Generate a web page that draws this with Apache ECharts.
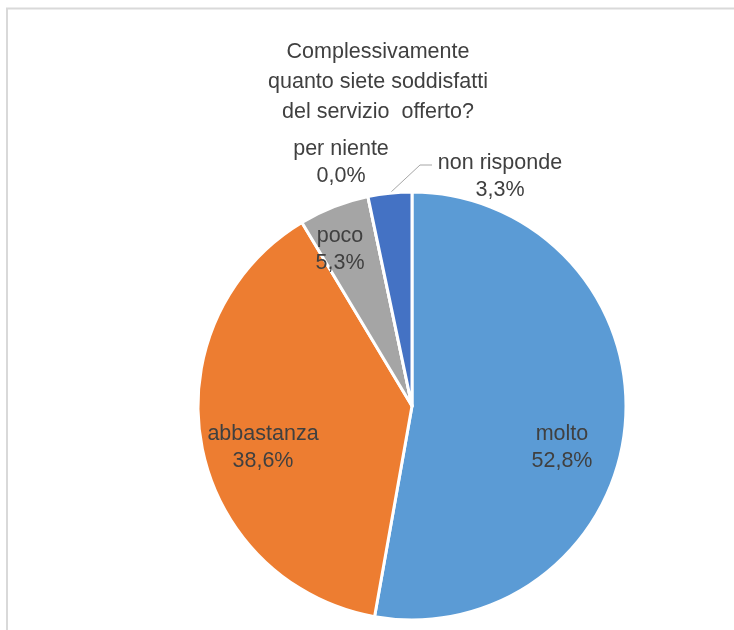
<!DOCTYPE html>
<html><head><meta charset="utf-8">
<script src="https://cdn.jsdelivr.net/npm/echarts@6/dist/echarts.min.js"></script>
<style>html,body{margin:0;padding:0;background:#fff}#c{width:734px;height:630px}</style>
</head><body><div id="c"></div>
<script>
// ---- data ----
const categories = ['molto', 'abbastanza', 'poco', 'per niente', 'non risponde'];
const values = [52.8, 38.6, 5.3, 0.0, 3.3];
const titleLines = ['Complessivamente', 'quanto siete soddisfatti', 'del servizio  offerto?'];

// ---- style ----
const colors = ['#5B9BD5', '#ED7D31', '#A5A5A5', '#FFC000', '#4472C4'];
const CX = 412, CY = 406, R = 214;
const labelOffsets = [[150, 42], [-149, 42], [-72, -156], [-71, -243], [88, -229]];
const leaderBend = [[8, -241], [20, -241]];
const FONT = 'Liberation Sans, Arial, sans-serif';
const TXT = '#404040';

const chart = echarts.init(document.getElementById('c'), null, { renderer: 'canvas' });
const data = categories.map((name, i) => {
  const item = { name, value: values[i], itemStyle: { color: colors[i] } };
  if (name === 'non risponde') {
    item.label = { position: 'outside' };
    item.labelLine = { show: true, length: 10, length2: 10 };
  }
  return item;
});

chart.setOption({
  backgroundColor: '#ffffff',
  animation: false,
  title: {
    text: titleLines.join('\n'),
    left: 373, top: 32,
    textAlign: 'center',
    textStyle: { fontFamily: FONT, fontSize: 21.5, fontWeight: 'normal', color: TXT, lineHeight: 30 }
  },
  graphic: [{
    type: 'rect', silent: true, z: -10,
    shape: { x: 7, y: 8.5, width: 900, height: 800 },
    style: { fill: 'none', stroke: '#d9d9d9', lineWidth: 2 }
  }],
  series: [{
    type: 'pie',
    center: [CX, CY],
    radius: R,
    startAngle: 90,
    clockwise: true,
    avoidLabelOverlap: false,
    itemStyle: { borderColor: '#ffffff', borderWidth: 3 },
    label: {
      show: true, position: 'inside',
      fontFamily: FONT, fontSize: 21.5, color: TXT, lineHeight: 27,
      formatter: p => p.name + '\n' + p.value.toFixed(1).replace('.', ',') + '%'
    },
    labelLine: { show: false, lineStyle: { color: '#A6A6A6', width: 1 } },
    labelLayout: function (p) {
      const o = labelOffsets[p.dataIndex];
      const res = { x: CX + o[0], y: CY + o[1], align: 'center', verticalAlign: 'middle' };
      if (p.labelLinePoints && p.labelLinePoints.length) {
        const s = p.labelLinePoints[0];
        res.labelLinePoints = [[s[0], s[1]],
          [CX + leaderBend[0][0], CY + leaderBend[0][1]],
          [CX + leaderBend[1][0], CY + leaderBend[1][1]]];
      }
      return res;
    },
    data: data
  }]
});
</script></body></html>
